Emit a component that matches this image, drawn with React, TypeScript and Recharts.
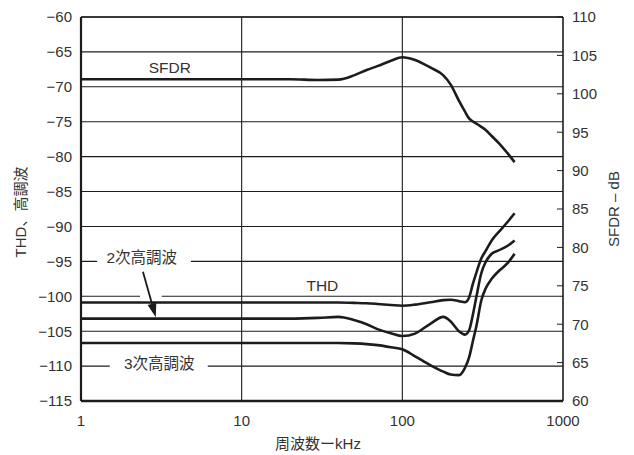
import React from 'react';
import {
  LineChart,
  Line,
  XAxis,
  YAxis,
  CartesianGrid,
  ReferenceLine,
  ReferenceDot,
} from 'recharts';

// Frequency points (kHz) shared by every curve
const FREQ = [1, 10, 20, 30, 40, 50, 60, 70, 85, 100, 120, 150, 180, 200, 225, 245, 260, 275, 290, 310, 330, 360, 400, 450, 500];

// SFDR in dB (right axis)
const SFDR = [101.9, 101.9, 101.9, 101.8, 101.85, 102.4, 103.1, 103.6, 104.3, 104.75, 104.4, 103.4, 102.4, 101.2, 99.1, 97.7, 96.8, 96.4, 96.1, 95.7, 95.3, 94.5, 93.55, 92.3, 91.1];

// THD and harmonics in dBc (left axis)
const THD = [-100.9, -100.9, -100.9, -100.9, -100.9, -100.95, -101.0, -101.1, -101.25, -101.35, -101.2, -100.85, -100.55, -100.5, -100.7, -100.85, -100.2, -98.2, -96.5, -94.6, -93.5, -92.0, -90.75, -89.4, -88.1];
const HARM2 = [-103.2, -103.2, -103.2, -103.1, -102.95, -103.4, -104.0, -104.7, -105.3, -105.7, -105.35, -103.9, -102.95, -103.6, -105.0, -105.5, -104.9, -102.6, -99.9, -96.7, -95.1, -93.9, -93.4, -92.8, -92.0];
const HARM3 = [-106.7, -106.7, -106.7, -106.7, -106.7, -106.75, -106.85, -107.0, -107.3, -107.6, -108.6, -109.9, -110.8, -111.2, -111.3, -110.3, -108.8, -106.4, -104.1, -100.6, -98.9, -97.5, -96.35, -95.3, -93.9];

// Axis ticks
const X_TICKS = [1, 10, 100, 1000];
const LEFT_TICKS = [-115, -110, -105, -100, -95, -90, -85, -80, -75, -70, -65, -60];
const RIGHT_TICKS = [60, 65, 70, 75, 80, 85, 90, 95, 100, 105, 110];

const data = FREQ.map((f, i) => ({
  f,
  sfdr: SFDR[i],
  thd: THD[i],
  h2: HARM2[i],
  h3: HARM3[i],
}));

const FONT = "'Liberation Sans', Arial, 'Noto Sans CJK JP', sans-serif";
const INK = '#1c1c1c';
const TEXT = '#333';

const fmtMinus = (v: number) => (v < 0 ? '\u2212' + Math.abs(v) : String(v));

const RightTick = (props: any) => {
  const { x, y, payload } = props;
  return (
    <g>
      <line x1={x - 6} x2={x} y1={y} y2={y} stroke={INK} strokeWidth={1} />
      <text x={x + 9} y={y} dy="0.355em" textAnchor="start" fill={TEXT} fontSize={15} fontFamily={FONT}>
        {payload.value}
      </text>
    </g>
  );
};

const textMark = (label: string) => (p: any) => (
  <text
    x={p.cx}
    y={p.cy}
    textAnchor="middle"
    dominantBaseline="central"
    fill={TEXT}
    fontSize={15.5}
    fontFamily={FONT}
  >
    {label}
  </text>
);

const ArrowShape = (p: any) => {
  const { x1, y1, x2, y2 } = p;
  const dx = x2 - x1;
  const dy = y2 - y1;
  const len = Math.sqrt(dx * dx + dy * dy) || 1;
  const ux = dx / len;
  const uy = dy / len;
  const headLen = 14;
  const headHalf = 4.5;
  const bx = x2 - ux * headLen;
  const by = y2 - uy * headLen;
  const px = -uy;
  const py = ux;
  return (
    <g>
      <line x1={x1} y1={y1} x2={bx} y2={by} stroke={INK} strokeWidth={1.8} />
      <polygon
        points={`${x2},${y2} ${bx + px * headHalf},${by + py * headHalf} ${bx - px * headHalf},${by - py * headHalf}`}
        fill={INK}
      />
    </g>
  );
};

const LeftTitle = (p: any) => {
  const vb = p.viewBox;
  const cx = vb.x + 20;
  const cy = vb.y + vb.height / 2 + 3;
  return (
    <text x={cx} y={cy} transform={`rotate(-90 ${cx} ${cy})`} textAnchor="middle" dominantBaseline="central" fill={TEXT} fontSize={15} fontFamily={FONT}>
      THD、高調波
    </text>
  );
};

const RightTitle = (p: any) => {
  const vb = p.viewBox;
  const cx = vb.x + 50;
  const cy = vb.y + vb.height / 2;
  return (
    <text x={cx} y={cy} transform={`rotate(-90 ${cx} ${cy})`} textAnchor="middle" dominantBaseline="central" fill={TEXT} fontSize={15} fontFamily={FONT}>
      SFDR – dB
    </text>
  );
};

const BottomTitle = (p: any) => {
  const vb = p.viewBox;
  const cx = vb.x + vb.width / 2 - 4;
  return (
    <text x={cx} y={443} textAnchor="middle" dominantBaseline="central" fill={TEXT} fontSize={15} fontFamily={FONT}>
      周波数ーkHz
    </text>
  );
};

export default function App() {
  return (
    <div style={{ position: 'absolute', left: 0, top: 0, width: 634, height: 455, background: '#fff' }}>
      <LineChart width={634} height={455} data={data} margin={{ top: 17, right: 0, bottom: 0, left: 0 }}>
        <CartesianGrid yAxisId="left" stroke={INK} strokeWidth={1.1} horizontalValues={LEFT_TICKS} verticalValues={[10, 100]} />
        <XAxis
          dataKey="f"
          type="number"
          scale="log"
          domain={[1, 1000]}
          ticks={X_TICKS}
          allowDataOverflow
          height={54}
          tickLine={false}
          tickSize={0}
          tickMargin={14}
          axisLine={{ stroke: INK, strokeWidth: 2.5 }}
          tick={{ fill: TEXT, fontSize: 15, fontFamily: FONT }}
          label={<BottomTitle />}
        />
        <YAxis
          yAxisId="left"
          orientation="left"
          type="number"
          domain={[-115, -60]}
          ticks={LEFT_TICKS}
          allowDataOverflow
          width={81}
          tickLine={false}
          tickSize={0}
          tickMargin={9}
          tickFormatter={fmtMinus}
          axisLine={{ stroke: INK, strokeWidth: 2.2 }}
          tick={{ fill: TEXT, fontSize: 15, fontFamily: FONT }}
          label={<LeftTitle />}
        />
        <YAxis
          yAxisId="right"
          orientation="right"
          type="number"
          domain={[60, 110]}
          ticks={RIGHT_TICKS}
          allowDataOverflow
          width={71}
          tickLine={false}
          tickSize={0}
          tickMargin={0}
          axisLine={{ stroke: INK, strokeWidth: 1.6 }}
          tick={<RightTick />}
          label={<RightTitle />}
        />

        {/* frame top edge */}
        <ReferenceLine yAxisId="left" y={-60} stroke={INK} strokeWidth={1.6} />

        {/* breaks in the grid behind the annotations */}
        <ReferenceLine yAxisId="left" segment={[{ x: 1.26, y: -95 }, { x: 4.83, y: -95 }]} stroke="#fff" strokeWidth={4} />
        <ReferenceLine yAxisId="left" segment={[{ x: 1.51, y: -110 }, { x: 6.15, y: -110 }]} stroke="#fff" strokeWidth={4} />
        <ReferenceLine yAxisId="left" segment={[{ x: 2.33, y: -100 }, { x: 3.18, y: -100 }]} stroke="#fff" strokeWidth={4} />

        <Line yAxisId="right" type="monotone" dataKey="sfdr" stroke={INK} strokeWidth={2.6} dot={false} isAnimationActive={false} />
        <Line yAxisId="left" type="monotone" dataKey="thd" stroke={INK} strokeWidth={2.6} dot={false} isAnimationActive={false} />
        <Line yAxisId="left" type="monotone" dataKey="h2" stroke={INK} strokeWidth={2.6} dot={false} isAnimationActive={false} />
        <Line yAxisId="left" type="monotone" dataKey="h3" stroke={INK} strokeWidth={2.6} dot={false} isAnimationActive={false} />

        {/* annotations */}
        <ReferenceDot yAxisId="left" x={3.57} y={-67.2} r={0} shape={textMark('SFDR')} />
        <ReferenceDot yAxisId="left" x={31.8} y={-98.4} r={0} shape={textMark('THD')} />
        <ReferenceDot yAxisId="left" x={2.39} y={-94.5} r={0} shape={textMark('2次高調波')} />
        <ReferenceDot yAxisId="left" x={3.07} y={-109.7} r={0} shape={textMark('3次高調波')} />
        <ReferenceLine
          yAxisId="left"
          segment={[{ x: 2.43, y: -96.5 }, { x: 2.92, y: -103.0 }]}
          shape={ArrowShape}
        />
      </LineChart>
    </div>
  );
}
